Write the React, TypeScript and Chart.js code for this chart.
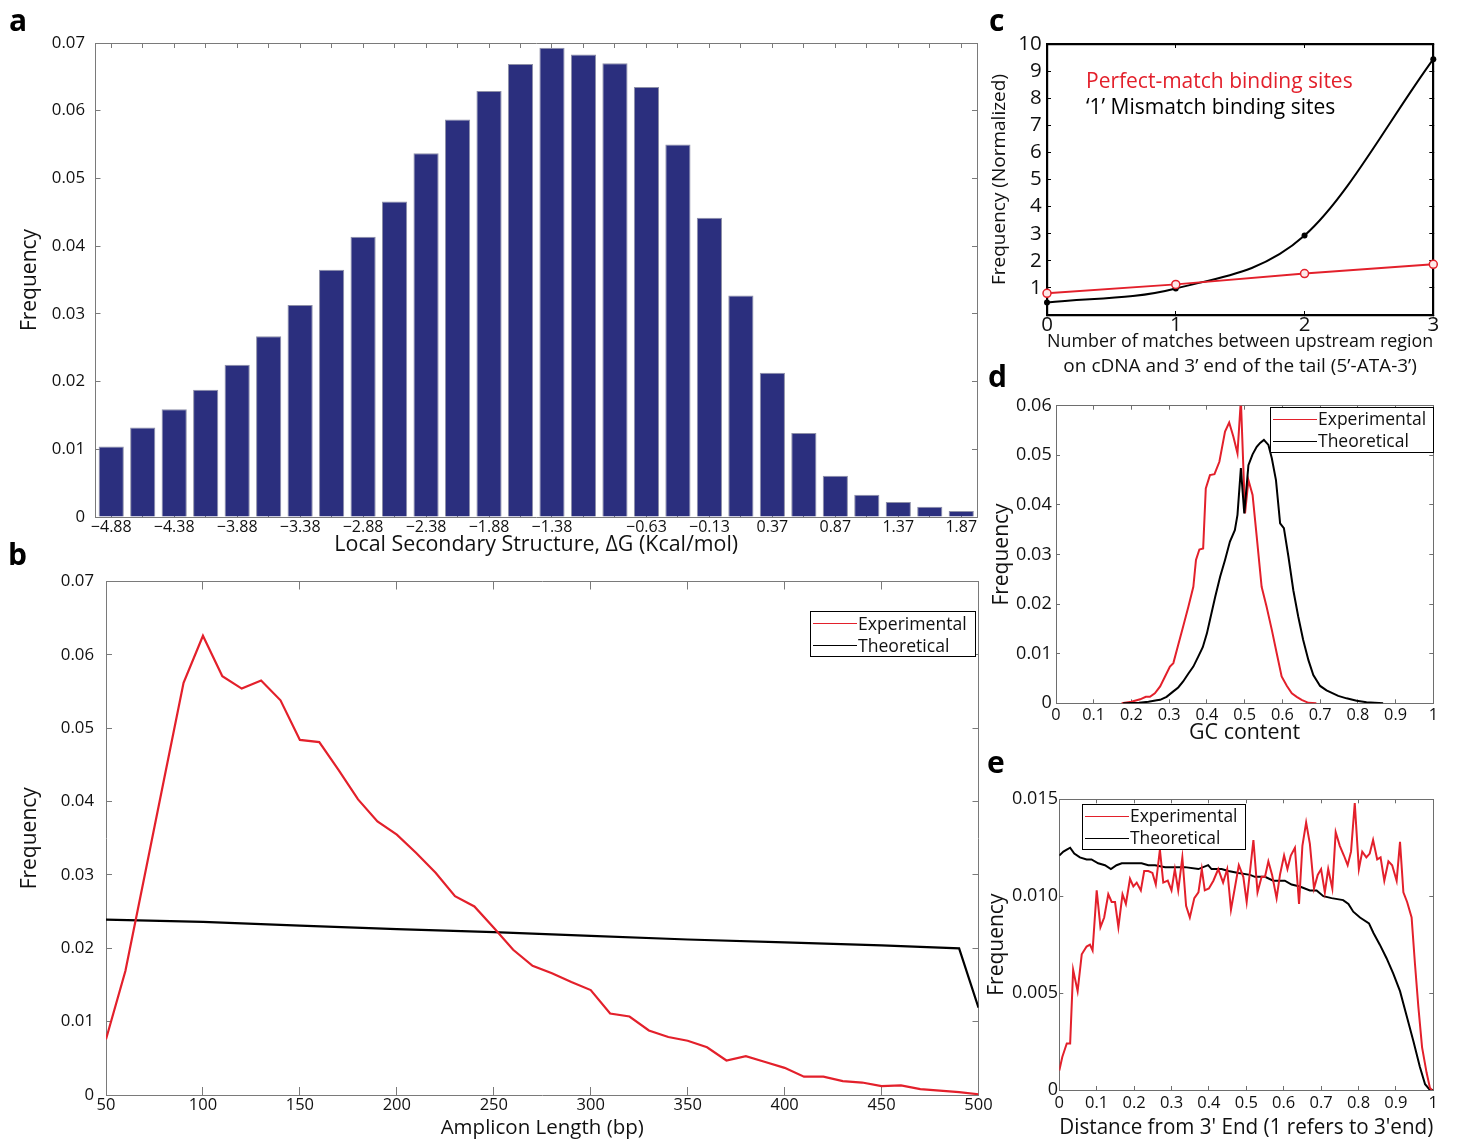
import React, { useEffect, useRef } from 'react';
import { Chart, registerables } from 'chart.js';

Chart.register(...registerables);

const FONT = '"Open Sans", "DejaVu Sans", sans-serif';
const INK = '#111111';
const RED = '#e3202b';
const NAVY = '#2b2f7e';

Chart.defaults.font.family = FONT;
Chart.defaults.color = INK;

// ---------- a: local secondary structure histogram ----------
const aBinLabels = ['−4.88', '−4.63', '−4.38', '−4.13', '−3.88', '−3.63', '−3.38', '−3.13', '−2.88', '−2.63', '−2.38', '−2.13', '−1.88', '−1.63', '−1.38', '−1.13', '−0.88', '−0.63', '−0.38', '−0.13', '0.12', '0.37', '0.62', '0.87', '1.12', '1.37', '1.62', '1.87'];
const aShownLabels = ['−4.88', '−4.38', '−3.88', '−3.38', '−2.88', '−2.38', '−1.88', '−1.38', '−0.63', '−0.13', '0.37', '0.87', '1.37', '1.87'];
const aFrequency = [0.0104, 0.0132, 0.0159, 0.0188, 0.0225, 0.0267, 0.0313, 0.0365, 0.0414, 0.0466, 0.0537, 0.0587, 0.0629, 0.0669, 0.0693, 0.0683, 0.0670, 0.0635, 0.0550, 0.0442, 0.0327, 0.0213, 0.0124, 0.0061, 0.0033, 0.0022, 0.0015, 0.0009];

// ---------- b: amplicon length ----------
const bLengths = [50, 60, 70, 80, 90, 100, 110, 120, 130, 140, 150, 160, 170, 180, 190, 200, 210, 220, 230, 240, 250, 260, 270, 280, 290, 300, 310, 320, 330, 340, 350, 360, 370, 380, 390, 400, 410, 420, 430, 440, 450, 460, 470, 480, 490, 500];
const bExperimental = [0.0076, 0.0169, 0.0300, 0.0431, 0.0562, 0.0626, 0.0571, 0.0554, 0.0565, 0.0538, 0.0484, 0.0481, 0.0443, 0.0403, 0.0373, 0.0355, 0.0330, 0.0303, 0.0271, 0.0257, 0.0228, 0.0198, 0.0176, 0.0166, 0.0154, 0.0143, 0.0111, 0.0107, 0.0088, 0.0079, 0.0074, 0.0065, 0.0047, 0.0053, 0.0045, 0.0037, 0.0025, 0.0025, 0.0019, 0.0017, 0.0012, 0.0013, 0.0008, 0.0006, 0.0004, 0.0001];
const bTheoLengths = [50, 100, 150, 200, 250, 300, 350, 400, 450, 490, 500];
const bTheoretical = [0.0239, 0.0236, 0.0231, 0.0226, 0.0222, 0.0217, 0.0212, 0.0208, 0.0204, 0.0200, 0.0119];

// ---------- c: matches with the tail ----------
const cMatches = [0, 1, 2, 3];
const cPerfect = [0.80, 1.13, 1.53, 1.87];
const cMismatch = [0.46, 0.98, 2.93, 9.44];

// ---------- d: GC content ----------
const dExperimental: [number, number][] = [
  [0.174, 0], [0.2, 0.0003], [0.223, 0.0008], [0.238, 0.0013], [0.249, 0.0013], [0.262, 0.0020], [0.276, 0.0034],
  [0.289, 0.0054], [0.302, 0.0074], [0.311, 0.0081], [0.324, 0.0118], [0.337, 0.0155], [0.351, 0.0195], [0.364, 0.0235],
  [0.371, 0.0289], [0.380, 0.0310], [0.390, 0.0312], [0.397, 0.0433], [0.408, 0.0460], [0.420, 0.0462], [0.433, 0.0487],
  [0.448, 0.0548], [0.459, 0.0566], [0.470, 0.0538], [0.481, 0.0504], [0.490, 0.0612], [0.501, 0.0383], [0.510, 0.0450],
  [0.521, 0.0420], [0.532, 0.0336], [0.545, 0.0235], [0.558, 0.0195], [0.572, 0.0148], [0.585, 0.0101], [0.598, 0.0054],
  [0.612, 0.0035], [0.625, 0.0020], [0.638, 0.0013], [0.651, 0.0007], [0.669, 0.0001], [0.690, 0],
];
const dTheoretical: [number, number][] = [
  [0.178, 0], [0.22, 0.0001], [0.245, 0.0003], [0.267, 0.0006], [0.276, 0.0007], [0.293, 0.0013], [0.311, 0.0024],
  [0.324, 0.0032], [0.337, 0.0044], [0.351, 0.0060], [0.364, 0.0074], [0.377, 0.0094], [0.389, 0.0113], [0.400, 0.0141],
  [0.408, 0.0168], [0.422, 0.0215], [0.435, 0.0255], [0.448, 0.0289], [0.461, 0.0326], [0.474, 0.0349], [0.481, 0.0380],
  [0.490, 0.0474], [0.499, 0.0383], [0.510, 0.0480], [0.521, 0.0502], [0.532, 0.0517], [0.541, 0.0525], [0.551, 0.0531],
  [0.563, 0.0521], [0.572, 0.0494], [0.583, 0.0450], [0.594, 0.0363], [0.604, 0.0353], [0.616, 0.0296], [0.629, 0.0228],
  [0.642, 0.0175], [0.655, 0.0128], [0.669, 0.0087], [0.682, 0.0057], [0.700, 0.0035], [0.717, 0.0026], [0.748, 0.0015],
  [0.770, 0.0010], [0.797, 0.0005], [0.823, 0.0002], [0.867, 0],
];

// ---------- e: distance from 3' end ----------
const eExperimental: [number, number][] = [
  [0, 0.0010], [0.008, 0.0017], [0.02, 0.0024], [0.029, 0.0024], [0.037, 0.0062], [0.049, 0.0051], [0.06, 0.0070],
  [0.073, 0.0074], [0.082, 0.0075], [0.089, 0.0072], [0.1, 0.0103], [0.11, 0.0084], [0.12, 0.0089], [0.131, 0.0101],
  [0.14, 0.0097], [0.149, 0.0097], [0.158, 0.0084], [0.169, 0.0101], [0.178, 0.0096], [0.189, 0.0109], [0.198, 0.0105],
  [0.207, 0.0107], [0.218, 0.0103], [0.227, 0.0113], [0.238, 0.0113], [0.249, 0.0112], [0.258, 0.0106], [0.269, 0.0124],
  [0.278, 0.0107], [0.29, 0.0108], [0.3, 0.0103], [0.309, 0.0114], [0.318, 0.0103], [0.329, 0.0120], [0.339, 0.0095],
  [0.349, 0.0089], [0.361, 0.0099], [0.372, 0.0102], [0.381, 0.0114], [0.389, 0.0103], [0.4, 0.0104], [0.412, 0.0108],
  [0.425, 0.0114], [0.438, 0.0107], [0.449, 0.0114], [0.459, 0.0093], [0.47, 0.0105], [0.48, 0.0116], [0.492, 0.0110],
  [0.501, 0.0097], [0.519, 0.0129], [0.53, 0.0102], [0.541, 0.0110], [0.55, 0.0110], [0.559, 0.0118], [0.569, 0.0111],
  [0.581, 0.0099], [0.59, 0.0111], [0.601, 0.0121], [0.61, 0.0114], [0.619, 0.0121], [0.63, 0.0125], [0.641, 0.0096],
  [0.65, 0.0126], [0.66, 0.0138], [0.67, 0.0127], [0.681, 0.0104], [0.691, 0.0111], [0.7, 0.0114], [0.71, 0.0102],
  [0.719, 0.0114], [0.73, 0.0104], [0.739, 0.0133], [0.75, 0.0126], [0.761, 0.0121], [0.771, 0.0116], [0.78, 0.0123],
  [0.79, 0.0148], [0.801, 0.0114], [0.81, 0.0123], [0.821, 0.0120], [0.83, 0.0122], [0.839, 0.0129], [0.85, 0.0119],
  [0.859, 0.0120], [0.869, 0.0108], [0.88, 0.0118], [0.89, 0.0116], [0.902, 0.0108], [0.911, 0.0128], [0.92, 0.0102],
  [0.93, 0.0097], [0.942, 0.0089], [0.951, 0.0065], [0.96, 0.0043], [0.97, 0.0022], [0.982, 0.0009], [0.991, 0.0001],
  [0.997, 0],
];
const eTheoretical: [number, number][] = [
  [0, 0.0121], [0.011, 0.0123], [0.02, 0.0124], [0.029, 0.0125], [0.04, 0.0122], [0.055, 0.0120], [0.073, 0.0119],
  [0.086, 0.0119], [0.104, 0.0117], [0.122, 0.0116], [0.138, 0.0114], [0.153, 0.0116], [0.167, 0.0117], [0.184, 0.0117],
  [0.202, 0.0117], [0.22, 0.0117], [0.238, 0.0116], [0.256, 0.0116], [0.283, 0.0115], [0.309, 0.0115], [0.336, 0.0115],
  [0.372, 0.0114], [0.398, 0.0116], [0.407, 0.0114], [0.434, 0.0114], [0.452, 0.0113], [0.479, 0.0112], [0.51, 0.0111],
  [0.523, 0.0110], [0.55, 0.0110], [0.572, 0.0108], [0.603, 0.0108], [0.621, 0.0106], [0.643, 0.0105], [0.67, 0.0103],
  [0.688, 0.0103], [0.706, 0.0100], [0.728, 0.0099], [0.759, 0.0098], [0.773, 0.0096], [0.786, 0.0092], [0.804, 0.0089],
  [0.828, 0.0086], [0.84, 0.0081], [0.857, 0.0075], [0.875, 0.0068], [0.893, 0.0060], [0.911, 0.0051], [0.929, 0.0038],
  [0.947, 0.0025], [0.964, 0.0012], [0.978, 0.0003], [0.991, 0], [1, 0],
];

// ---------- helpers ----------
const zip = (xs: number[], ys: number[]) => xs.map((x, i) => ({ x, y: ys[i] }));
const fromPairs = (p: [number, number][]) => p.map(([x, y]) => ({ x, y }));
const fmt2 = (v: number) => (v === 0 ? '0' : v.toFixed(2));
const fmt1 = (v: number) => (v === 0 ? '0' : v === 1 ? '1' : v.toFixed(1));
const fmt3 = (v: number) => (v === 0 ? '0' : v.toFixed(3));

type Side = 'left' | 'right' | 'top' | 'bottom';
interface AxisSpec {
  position: Side;
  size: number;
  type?: 'linear' | 'category';
  min?: number;
  max?: number;
  step?: number;
  labels?: string[];
  offset?: boolean;
  frameColor: string;
  frameWidth: number;
  tickLen: number;
  showLabels?: boolean;
  labelFont?: number;
  labelPad?: number;
  format?: (v: number, i: number) => string;
  title?: string | string[];
  titleFont?: number;
  titleLine?: number;
  titlePad?: { top?: number; bottom?: number };
}

// Fixed axis thickness so every plot area lands on a known rectangle.
function axis(s: AxisSpec): any {
  const cfg: any = {
    type: s.type ?? 'linear',
    position: s.position,
    offset: s.offset ?? false,
    afterFit: (scale: any) => {
      if (scale.isHorizontal()) scale.height = s.size;
      else scale.width = s.size;
      scale.paddingLeft = 0;
      scale.paddingRight = 0;
      scale.paddingTop = 0;
      scale.paddingBottom = 0;
    },
    border: { display: true, color: s.frameColor, width: s.frameWidth },
    grid: {
      drawOnChartArea: false,
      drawTicks: true,
      tickLength: -s.tickLen,
      tickColor: s.frameColor,
      tickWidth: 1,
      offset: false,
    },
    ticks: {
      display: !!s.showLabels,
      autoSkip: false,
      maxRotation: 0,
      minRotation: 0,
      padding: s.labelPad ?? 0,
      color: INK,
      font: { size: s.labelFont ?? 16, family: FONT },
    },
    title: s.title
      ? {
          display: true,
          text: s.title,
          color: INK,
          font: { size: s.titleFont ?? 21, family: FONT, lineHeight: s.titleLine ?? 1.2 },
          padding: { top: s.titlePad?.top ?? 0, bottom: s.titlePad?.bottom ?? 0 },
        }
      : { display: false },
  };
  if (s.min !== undefined) cfg.min = s.min;
  if (s.max !== undefined) cfg.max = s.max;
  if (s.step !== undefined) cfg.ticks.stepSize = s.step;
  if (s.labels) cfg.labels = s.labels;
  if (s.format) {
    const f = s.format;
    cfg.ticks.callback = (v: any, i: number) => f(Number(v), i);
  }
  return cfg;
}

// Draws the boxed legends and the coloured series captions.
const annotate = {
  id: 'annotate',
  afterDraw(chart: any, _args: any, o: any) {
    const { ctx, chartArea } = chart;
    if (o && o.legend) {
      const { dx, dy, w, h, rows, font } = o.legend;
      const x = Math.round(chartArea.left + dx);
      const y = Math.round(chartArea.top + dy);
      ctx.save();
      ctx.fillStyle = '#ffffff';
      ctx.fillRect(x, y, w, h);
      ctx.strokeStyle = '#000000';
      ctx.lineWidth = 1;
      ctx.strokeRect(x + 0.5, y + 0.5, Math.round(w), Math.round(h));
      ctx.font = `${font}px ${FONT}`;
      ctx.textBaseline = 'middle';
      ctx.textAlign = 'left';
      chart.data.datasets.forEach((ds: any, i: number) => {
        const ry = Math.round(y + rows[i]) + 0.5;
        ctx.strokeStyle = ds.borderColor;
        ctx.lineWidth = 1.2;
        ctx.beginPath();
        ctx.moveTo(x + 3, ry);
        ctx.lineTo(x + 47, ry);
        ctx.stroke();
        ctx.fillStyle = INK;
        ctx.fillText(ds.label, x + 48, ry + 1);
      });
      ctx.restore();
    }
    if (o && o.captions) {
      const { dx, rows, font } = o.captions;
      ctx.save();
      ctx.font = `${font}px ${FONT}`;
      ctx.textBaseline = 'middle';
      ctx.textAlign = 'left';
      chart.data.datasets.forEach((ds: any, i: number) => {
        ctx.fillStyle = ds.borderColor;
        ctx.fillText(ds.label, chartArea.left + dx, chartArea.top + rows[i]);
      });
      ctx.restore();
    }
  },
};

function baseOptions(padding: any, scales: any, annot: any = {}): any {
  return {
    responsive: false,
    animation: false,
    events: [],
    layout: { padding, autoPadding: false },
    plugins: {
      legend: { display: false },
      tooltip: { enabled: false },
      annotate: annot,
    },
    scales,
  };
}

// ---------- panel configs ----------
const GRAY_A = '#7a7a7a';

function configA(): any {
  return {
    type: 'bar',
    data: {
      labels: aBinLabels,
      datasets: [
        {
          label: 'Frequency',
          data: aFrequency,
          backgroundColor: NAVY,
          borderColor: '#8e90a8',
          borderWidth: 1,
          barPercentage: 0.8,
          categoryPercentage: 1,
        },
      ],
    },
    options: baseOptions({ left: 0, top: 38, right: 8, bottom: 0 }, {
      x: axis({
        position: 'bottom', type: 'category', size: 43, offset: true, frameColor: GRAY_A, frameWidth: 1, tickLen: 5,
        showLabels: true, labelFont: 16, labelPad: 5.4,
        format: (_v, i) => (aShownLabels.includes(aBinLabels[i]) ? aBinLabels[i] : ''),
        title: 'Local Secondary Structure, ΔG (Kcal/mol)', titleFont: 21.4, titlePad: { bottom: 2.2 },
      }),
      x2: axis({ position: 'top', type: 'category', labels: aBinLabels, size: 5, offset: true, frameColor: GRAY_A, frameWidth: 1, tickLen: 5 }),
      y: axis({
        position: 'left', size: 95.5, min: 0, max: 0.07, step: 0.01, frameColor: GRAY_A, frameWidth: 1, tickLen: 5,
        showLabels: true, labelFont: 16.8, labelPad: 15.5, format: fmt2,
        title: 'Frequency', titleFont: 21, titlePad: { top: 17.4 },
      }),
      y2: axis({ position: 'right', size: 5, min: 0, max: 0.07, step: 0.01, frameColor: GRAY_A, frameWidth: 1, tickLen: 5 }),
    }),
    plugins: [annotate],
  };
}

const legendRows = [11.5, 34];

function configB(): any {
  return {
    type: 'line',
    data: {
      datasets: [
        { label: 'Experimental', data: zip(bLengths, bExperimental), borderColor: RED, borderWidth: 2.2, pointRadius: 0, tension: 0, order: 0 },
        { label: 'Theoretical', data: zip(bTheoLengths, bTheoretical), borderColor: '#000000', borderWidth: 2.2, pointRadius: 0, tension: 0, order: 1 },
      ],
    },
    options: baseOptions({ left: 0, top: 13.5, right: 15.5, bottom: 0 }, {
      x: axis({
        position: 'bottom', size: 47, min: 50, max: 500, step: 50, frameColor: GRAY_A, frameWidth: 1, tickLen: 8,
        showLabels: true, labelFont: 16.5, labelPad: 8.4, format: (v) => String(v),
        title: 'Amplicon Length (bp)', titleFont: 20.5, titlePad: { bottom: 1.2 },
      }),
      x2: axis({ position: 'top', size: 8, min: 50, max: 500, step: 50, frameColor: GRAY_A, frameWidth: 1, tickLen: 8 }),
      y: axis({
        position: 'left', size: 106, min: 0, max: 0.07, step: 0.01, frameColor: GRAY_A, frameWidth: 1, tickLen: 6,
        showLabels: true, labelFont: 16.8, labelPad: 18, format: fmt2,
        title: 'Frequency', titleFont: 21, titlePad: { top: 17.4 },
      }),
      y2: axis({ position: 'right', size: 6, min: 0, max: 0.07, step: 0.01, frameColor: GRAY_A, frameWidth: 1, tickLen: 6 }),
    }, { legend: { dx: 704, dy: 29.5, w: 165, h: 45, rows: legendRows, font: 17.6 } }),
    plugins: [annotate],
  };
}

function configC(): any {
  return {
    type: 'line',
    data: {
      datasets: [
        {
          label: 'Perfect-match binding sites', data: zip(cMatches, cPerfect), borderColor: RED, borderWidth: 2,
          pointRadius: 4, pointBorderWidth: 1.5, pointBorderColor: RED, pointBackgroundColor: '#fde9e9', tension: 0,
          clip: false, order: 0,
        },
        {
          label: '‘1’ Mismatch binding sites', data: zip(cMatches, cMismatch), borderColor: '#000000', borderWidth: 2,
          pointRadius: 3, pointBorderWidth: 0, pointBackgroundColor: '#000000', cubicInterpolationMode: 'monotone',
          clip: false, order: 1,
        },
      ],
    },
    options: baseOptions({ left: 0, top: 40, right: 19.7, bottom: 0 }, {
      x: axis({
        position: 'bottom', size: 65, min: 0, max: 3, step: 1, frameColor: '#000000', frameWidth: 2.2, tickLen: 4,
        showLabels: true, labelFont: 20.5, labelPad: 2, format: (v) => String(v),
        title: ['Number of matches between upstream region', 'on cDNA and 3’ end of the tail (5’-ATA-3’)'],
        titleFont: 19, titleLine: 25 / 19, titlePad: { bottom: 0.8 },
      }),
      x2: axis({ position: 'top', size: 4, min: 0, max: 3, step: 1, frameColor: '#000000', frameWidth: 2.2, tickLen: 4 }),
      y: axis({
        position: 'left', size: 67, min: 0, max: 10, step: 1, frameColor: '#000000', frameWidth: 2.2, tickLen: 4,
        showLabels: true, labelFont: 20.5, labelPad: 9.3, format: (v) => (v === 0 ? '' : String(v)),
        title: 'Frequency (Normalized)', titleFont: 19, titlePad: { top: 8.6 },
      }),
      y2: axis({ position: 'right', size: 4, min: 0, max: 10, step: 1, frameColor: '#000000', frameWidth: 2.2, tickLen: 4 }),
    }, { captions: { dx: 39, rows: [38, 64], font: 21 } }),
    plugins: [annotate],
  };
}

const GRAY_D = '#6e6e6e';

function configD(): any {
  return {
    type: 'line',
    data: {
      datasets: [
        { label: 'Experimental', data: fromPairs(dExperimental), borderColor: RED, borderWidth: 2, pointRadius: 0, tension: 0, order: 1 },
        { label: 'Theoretical', data: fromPairs(dTheoretical), borderColor: '#000000', borderWidth: 2, pointRadius: 0, tension: 0, order: 0 },
      ],
    },
    options: baseOptions({ left: 0, top: 21.7, right: 19.7, bottom: 0 }, {
      x: axis({
        position: 'bottom', size: 46.7, min: 0, max: 1, step: 0.1, frameColor: GRAY_D, frameWidth: 1, tickLen: 4,
        showLabels: true, labelFont: 16.3, labelPad: 6.1, format: fmt1,
        title: 'GC content', titleFont: 21.4, titlePad: { bottom: 3.9 },
      }),
      x2: axis({ position: 'top', size: 4, min: 0, max: 1, step: 0.1, frameColor: GRAY_D, frameWidth: 1, tickLen: 4 }),
      y: axis({
        position: 'left', size: 76, min: 0, max: 0.06, step: 0.01, frameColor: GRAY_D, frameWidth: 1, tickLen: 4,
        showLabels: true, labelFont: 18, labelPad: 8.3, format: fmt2,
        title: 'Frequency', titleFont: 21, titlePad: { top: 9.1 },
      }),
      y2: axis({ position: 'right', size: 4, min: 0, max: 0.06, step: 0.01, frameColor: GRAY_D, frameWidth: 1, tickLen: 4 }),
    }, { legend: { dx: 214, dy: 1.6, w: 163, h: 45, rows: legendRows, font: 17.5 } }),
    plugins: [annotate],
  };
}

function configE(): any {
  return {
    type: 'line',
    data: {
      datasets: [
        { label: 'Experimental', data: fromPairs(eExperimental), borderColor: RED, borderWidth: 2, pointRadius: 0, tension: 0, order: 0 },
        { label: 'Theoretical', data: fromPairs(eTheoretical), borderColor: '#000000', borderWidth: 2, pointRadius: 0, tension: 0, order: 1 },
      ],
    },
    options: baseOptions({ left: 0, top: 45.3, right: 19.7, bottom: 0 }, {
      x: axis({
        position: 'bottom', size: 52, min: 0, max: 1, step: 0.1, frameColor: GRAY_D, frameWidth: 1, tickLen: 4,
        showLabels: true, labelFont: 16.5, labelPad: 7.4, format: fmt1,
        title: "Distance from 3' End (1 refers to 3'end)", titleFont: 21.3, titlePad: { bottom: 0.9 },
      }),
      x2: axis({ position: 'top', size: 4, min: 0, max: 1, step: 0.1, frameColor: GRAY_D, frameWidth: 1, tickLen: 4 }),
      y: axis({
        position: 'left', size: 79.3, min: 0, max: 0.015, step: 0.005, frameColor: GRAY_D, frameWidth: 1, tickLen: 4,
        showLabels: true, labelFont: 18, labelPad: 5.3, format: fmt3,
        title: 'Frequency', titleFont: 21, titlePad: { top: 4.1 },
      }),
      y2: axis({ position: 'right', size: 4, min: 0, max: 0.015, step: 0.005, frameColor: GRAY_D, frameWidth: 1, tickLen: 4 }),
    }, { legend: { dx: 23, dy: 5, w: 163, h: 45, rows: legendRows, font: 17.4 } }),
    plugins: [annotate],
  };
}

// ---------- components ----------
interface PanelProps {
  left: number;
  top: number;
  width: number;
  height: number;
  make: () => any;
}

function Panel({ left, top, width, height, make }: PanelProps) {
  const ref = useRef<HTMLCanvasElement>(null);
  useEffect(() => {
    if (!ref.current) return;
    const chart = new Chart(ref.current, make());
    return () => chart.destroy();
  }, [make]);
  return (
    <canvas
      ref={ref}
      width={width}
      height={height}
      style={{ position: 'absolute', left, top, width, height }}
    />
  );
}

const panelLetters = [
  { t: 'a', x: 9, y: 5.4 },
  { t: 'b', x: 8, y: 539.4 },
  { t: 'c', x: 989, y: 5.4 },
  { t: 'd', x: 988, y: 361.4 },
  { t: 'e', x: 987, y: 747.4 },
];

export default function App() {
  return (
    <div
      style={{
        position: 'absolute',
        left: 0,
        top: 0,
        width: 1457,
        height: 1142,
        background: '#ffffff',
        overflow: 'hidden',
      }}
    >
      <Panel left={0} top={0} width={990} height={560} make={configA} />
      <Panel left={0} top={560} width={1000} height={582} make={configB} />
      <Panel left={980} top={0} width={477} height={380} make={configC} />
      <Panel left={980} top={380} width={477} height={370} make={configD} />
      <Panel left={980} top={750} width={477} height={392} make={configE} />
      {panelLetters.map((p) => (
        <div
          key={p.t}
          style={{
            position: 'absolute',
            left: p.x,
            top: p.y,
            fontFamily: FONT,
            fontWeight: 700,
            fontSize: 30,
            lineHeight: '30px',
            color: '#000000',
          }}
        >
          {p.t}
        </div>
      ))}
    </div>
  );
}
